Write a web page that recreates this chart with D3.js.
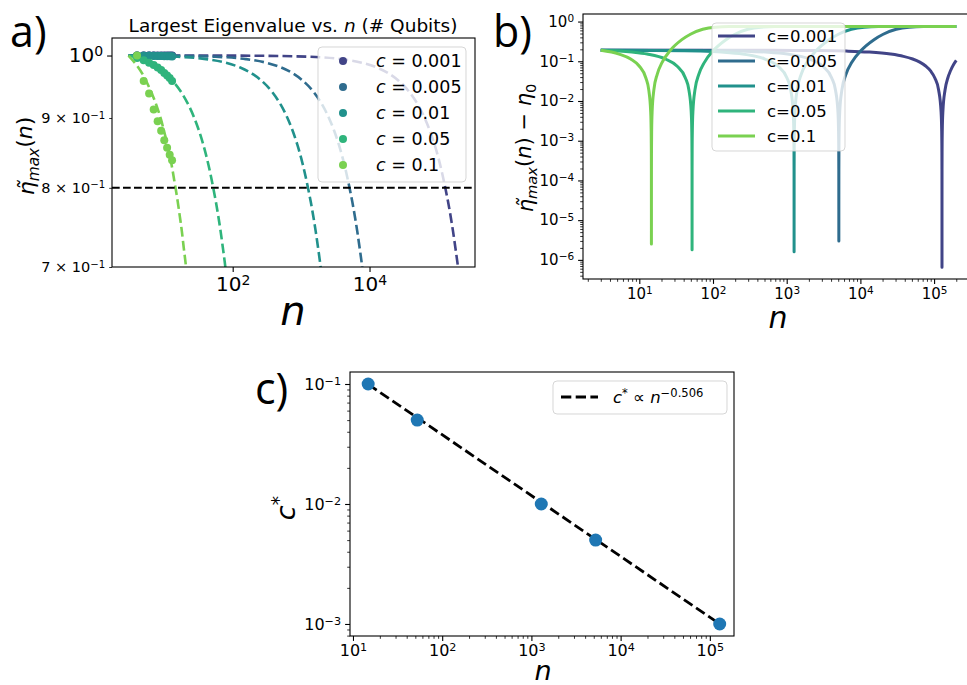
<!DOCTYPE html>
<html>
<head>
<meta charset="utf-8">
<script src="https://cdn.jsdelivr.net/npm/d3@7/dist/d3.min.js"></script>
<style>
html,body{margin:0;padding:0;background:#fff;}
svg{display:block;}
</style>
</head>
<body>
<svg id="fig" width="967" height="685" xmlns="http://www.w3.org/2000/svg"></svg>
<script>
// ---------------- DATA ----------------
const cValues = [0.001, 0.005, 0.01, 0.05, 0.1];
const cLabels = ["0.001", "0.005", "0.01", "0.05", "0.1"];

// Panel a: dashed curves  (n, eta_max)
const aLineN = [
  [3, 131, 1283, 3843, 7683, 12803, 19203, 25602, 38402, 51202, 64001, 76801, 89601, 102401, 115200, 128000, 140800, 153600, 166400, 179200, 192000, 200000],
  [3, 15, 54, 156, 309, 513, 768, 1022, 1532, 2042, 2552, 3061, 3571, 4081, 4590, 5100, 5610, 6119, 6629, 7139, 7649, 8158],
  [3, 15.6, 40.7, 78.4, 128.7, 191.6, 254, 380, 506, 632, 757, 883, 1009, 1134, 1260, 1386, 1511, 1637, 1763, 1889, 2014],
  [3, 3.98, 5.45, 7.9, 12.8, 17.7, 22.6, 27.5, 32.4, 37.3, 42.2, 47.1, 52, 56.9, 61.8, 66.7, 71.6, 76.5, 81.4],
  [3, 4, 5, 6, 7, 8, 9, 10, 11, 12, 13, 14, 14.6, 15.76, 16.9, 18.1, 19.2, 20.4, 21.6]
];
const aLineEta = [
  [1.0, 0.9998, 0.998, 0.994, 0.988, 0.98, 0.97, 0.96, 0.94, 0.92, 0.90, 0.88, 0.86, 0.84, 0.82, 0.80, 0.781, 0.762, 0.743, 0.724, 0.706, 0.695],
  [1.0, 0.9995, 0.998, 0.994, 0.988, 0.98, 0.97, 0.96, 0.94, 0.92, 0.90, 0.88, 0.86, 0.84, 0.82, 0.80, 0.781, 0.762, 0.743, 0.724, 0.706, 0.687],
  [1.0, 0.998, 0.994, 0.988, 0.98, 0.97, 0.96, 0.94, 0.92, 0.90, 0.88, 0.86, 0.84, 0.82, 0.80, 0.781, 0.762, 0.743, 0.724, 0.706, 0.687],
  [1.0, 0.996, 0.99, 0.98, 0.96, 0.94, 0.92, 0.90, 0.88, 0.86, 0.84, 0.82, 0.80, 0.781, 0.762, 0.743, 0.724, 0.706, 0.687],
  [1.0, 0.983, 0.966, 0.948, 0.931, 0.914, 0.897, 0.879, 0.862, 0.845, 0.828, 0.810, 0.80, 0.781, 0.762, 0.743, 0.724, 0.706, 0.687]
];
// Panel a: computed points
const dotN = [4, 5, 6, 7, 8, 9, 10, 11, 12, 13];
const dotEta = [
  [1, 1, 1, 1, 1, 1, 1, 1, 1, 1],
  [1.0, 1.0, 1.0, 1.0, 0.9998, 0.9998, 0.9997, 0.9997, 0.9996, 0.9996],
  [0.9998, 0.9997, 0.9995, 0.9994, 0.9992, 0.999, 0.9989, 0.9987, 0.9986, 0.9984],
  [0.996, 0.992, 0.988, 0.984, 0.980, 0.976, 0.971, 0.967, 0.963, 0.958],
  [1.0, 0.958, 0.938, 0.913, 0.895, 0.881, 0.867, 0.856, 0.846, 0.838]
];
const eta0 = 0.8;

// Panel b: |eta_max(n) - eta0|
const bN = [
  [3, 67, 259, 643, 1283, 2563, 6403, 12803, 25602, 38402, 51202, 64001, 76801, 89601, 102401, 115200, 124160, 126720, 127616, 127872, 127987, 128000, 128013, 128128, 128384, 129280, 131840, 140800, 153600, 166400, 185600, 200000],
  [3, 105, 258, 513, 1022, 2042, 3061, 4081, 4590, 4947, 5049, 5085, 5095, 5099.5, 5100, 5100.5, 5105, 5115, 5151, 5253, 5610, 6374, 7649, 10197, 15294, 20391, 30585, 45876, 71361, 152913, 200000],
  [3, 15.6, 40.7, 65.9, 128.7, 254, 506, 757, 1009, 1134, 1222, 1247.4, 1256.2, 1258.7, 1259.87, 1260, 1260.13, 1261.3, 1263.8, 1272.6, 1297.7, 1385.7, 1574, 1888, 2517, 3774, 5031, 7545, 11316, 17601, 37713, 200000],
  [3, 7.9, 12.8, 22.6, 32.4, 42.2, 47.1, 50.53, 51.51, 51.853, 51.951, 51.995, 52, 52.005, 52.049, 52.147, 52.49, 53.47, 56.9, 64.25, 76.5, 101, 150, 199, 297, 444, 689, 1473, 200000],
  [3, 5.32, 7.64, 9.96, 12.28, 13.44, 14.25, 14.48, 14.565, 14.588, 14.5988, 14.6, 14.6012, 14.612, 14.635, 14.716, 14.95, 15.76, 17.5, 20.4, 26.2, 37.8, 49.4, 72.6, 107.4, 165, 351, 200000]
];
const bDiff = [
  [0.19, 0.1899, 0.1896, 0.189, 0.1881, 0.1862, 0.1805, 0.171, 0.152, 0.133, 0.114, 0.095, 0.076, 0.057, 0.038, 0.019, 0.0057, 0.0019, 0.00057, 0.00019, 0.000019, 6.5e-7, 0.000019, 0.00019, 0.00057, 0.0019, 0.0057, 0.019, 0.038, 0.0568, 0.0852, 0.1055],
  [0.19, 0.1862, 0.1805, 0.171, 0.152, 0.114, 0.076, 0.038, 0.019, 0.0057, 0.0019, 0.00057, 0.00019, 0.000019, 3e-6, 0.000019, 0.00019, 0.00057, 0.0019, 0.0057, 0.019, 0.047, 0.094, 0.186, 0.350, 0.480, 0.639, 0.724, 0.748, 0.75, 0.75],
  [0.19, 0.1881, 0.1843, 0.1805, 0.171, 0.152, 0.114, 0.076, 0.038, 0.019, 0.0057, 0.0019, 0.00057, 0.00019, 0.000019, 1.6e-6, 0.000019, 0.00019, 0.00057, 0.0019, 0.0057, 0.019, 0.047, 0.094, 0.186, 0.350, 0.480, 0.639, 0.724, 0.748, 0.75, 0.75],
  [0.19, 0.171, 0.152, 0.114, 0.076, 0.038, 0.019, 0.0057, 0.0019, 0.00057, 0.00019, 0.000019, 1.8e-6, 0.000019, 0.00019, 0.00057, 0.0019, 0.0057, 0.019, 0.047, 0.094, 0.186, 0.350, 0.480, 0.639, 0.724, 0.748, 0.75, 0.75],
  [0.19, 0.152, 0.114, 0.076, 0.038, 0.019, 0.0057, 0.0019, 0.00057, 0.00019, 0.000019, 2.5e-6, 0.000019, 0.00019, 0.00057, 0.0019, 0.0057, 0.019, 0.047, 0.094, 0.186, 0.350, 0.480, 0.639, 0.724, 0.748, 0.75, 0.75]
];

// Panel c: critical c* vs n
const critN = [14.8, 52.5, 1290, 5250, 129000];
const critC = [0.1, 0.05, 0.01, 0.005, 0.001];
const fitN = [14.8, 129000];
const fitC = [0.0995, 0.00100];
const fitExponentLabel = "\u22120.506";

// tick values
const aXMajor = [1e2, 1e4];
const aYMajor = [1.0];
const aYMinor = [0.7, 0.8, 0.9];
const bXMajor = [1e1, 1e2, 1e3, 1e4, 1e5];
const bYMajor = [1e-6, 1e-5, 1e-4, 1e-3, 1e-2, 1e-1, 1e0];
const cXMajor = [1e1, 1e2, 1e3, 1e4, 1e5];
const cYMajor = [1e-3, 1e-2, 1e-1];

// ---------------- DRAWING ----------------
const FONT = '"DejaVu Sans", sans-serif';
const svg = d3.select('#fig');
const colors = [0.2, 0.35, 0.5, 0.65, 0.8].map(t => d3.interpolateViridis(t));

function minorTicks(scale) {
  const [a, b] = scale.domain();
  const lo = Math.floor(Math.log10(a)), hi = Math.ceil(Math.log10(b));
  const out = [];
  for (let e = lo; e <= hi; e++) for (let m = 2; m <= 9; m++) {
    const v = m * Math.pow(10, e);
    if (v >= a && v <= b) out.push(v);
  }
  return out;
}
function supText(t, base, exp) {
  t.text(null);
  t.append('tspan').text(base);
  t.append('tspan').attr('dy', '-0.45em').attr('font-size', '0.7em').text(exp);
}
function powLabel(sel) {
  sel.each(function (d) {
    const e = Math.round(Math.log10(d));
    supText(d3.select(this), '10', e < 0 ? '\u2212' + (-e) : String(e));
  });
}
function mantLabel(sel) {
  sel.each(function (d) {
    const m = Math.round(d * 10);
    supText(d3.select(this), m + ' \u00d7 10', '\u22121');
  });
}
function axis(orient, scale, pos, values, size, fontSize, pad, labeler) {
  const gen = (orient === 'bottom' ? d3.axisBottom(scale) : d3.axisLeft(scale))
    .tickValues(values).tickSize(size).tickSizeOuter(0).tickPadding(pad);
  if (!labeler) gen.tickFormat('');
  const g = svg.append('g')
    .attr('transform', orient === 'bottom' ? `translate(0,${pos})` : `translate(${pos},0)`)
    .call(gen)
    .attr('font-size', fontSize).attr('font-family', FONT);
  g.select('.domain').remove();
  g.selectAll('.tick line').attr('stroke', '#000').attr('stroke-width', size > 4 ? 1.1 : 0.8);
  if (labeler) g.selectAll('.tick text').attr('fill', '#000').call(labeler);
  return g;
}
function frame(x0, y0, w, h) {
  svg.append('rect').attr('x', x0).attr('y', y0).attr('width', w).attr('height', h)
    .attr('fill', 'none').attr('stroke', '#000').attr('stroke-width', 1.1);
}
function clip(id, x0, y0, w, h) {
  svg.append('clipPath').attr('id', id).append('rect')
    .attr('x', x0).attr('y', y0).attr('width', w).attr('height', h);
}
function ylabel(x, y, size, build) {
  const t = svg.append('text').attr('transform', `translate(${x},${y}) rotate(-90)`)
    .attr('text-anchor', 'middle').attr('font-family', FONT).attr('font-size', size);
  build(t);
  return t;
}
function etaTilde(t) {
  t.append('tspan').attr('font-style', 'italic').text('\u03b7\u0303');
  t.append('tspan').attr('font-style', 'italic').attr('font-size', '0.7em').attr('dy', '0.3em').text('max');
  t.append('tspan').attr('dy', '-0.3em').text('(');
  t.append('tspan').attr('font-style', 'italic').text('n');
  t.append('tspan').text(')');
}

// ===== Panel a =====
const AX0 = 112, AX1 = 475, AY0 = 38, AY1 = 267;
const ax = d3.scaleLog().domain([1.722, 348000]).range([AX0, AX1]);
const ay = d3.scaleLog().domain([0.7, 1.03]).range([AY1, AY0]);
clip('clipA', AX0, AY0, AX1 - AX0, AY1 - AY0);
const gA = svg.append('g').attr('clip-path', 'url(#clipA)');
const lineA = d3.line().x(d => ax(d[0])).y(d => ay(d[1])).curve(d3.curveMonotoneX);
cValues.forEach((c, i) => {
  const pts = aLineN[i].map((n, k) => [n, aLineEta[i][k]]);
  gA.append('path').attr('d', lineA(pts)).attr('fill', 'none')
    .attr('stroke', colors[i]).attr('stroke-width', 2.6).attr('stroke-dasharray', '9.8,4.2');
  gA.selectAll(null).data(dotN.map((n, k) => [n, dotEta[i][k]])).enter().append('circle')
    .attr('cx', d => ax(d[0])).attr('cy', d => ay(d[1])).attr('r', 4).attr('fill', colors[i]);
});
gA.append('line').attr('x1', AX0).attr('x2', AX1).attr('y1', ay(eta0)).attr('y2', ay(eta0))
  .attr('stroke', '#000').attr('stroke-width', 2).attr('stroke-dasharray', '7.7,3.3');
axis('bottom', ax, AY1, aXMajor, 4.9, 20, 5, powLabel);
axis('left', ay, AX0, aYMajor, 4.9, 20, 4, powLabel);
axis('left', ay, AX0, aYMinor, 2.8, 14.5, 4, mantLabel);
frame(AX0, AY0, AX1 - AX0, AY1 - AY0);
// legend a
const legA = svg.append('g');
legA.append('rect').attr('x', 318).attr('y', 47).attr('width', 148).attr('height', 135).attr('rx', 4)
  .attr('fill', '#fff').attr('fill-opacity', 0.8).attr('stroke', '#cccccc').attr('stroke-opacity', 0.8);
cValues.forEach((c, i) => {
  const yy = 61 + i * 26;
  legA.append('circle').attr('cx', 343).attr('cy', yy).attr('r', 4).attr('fill', colors[i]);
  const t = legA.append('text').attr('x', 376).attr('y', yy + 6.3).attr('font-family', FONT).attr('font-size', 17.5);
  t.append('tspan').attr('font-style', 'italic').text('c');
  t.append('tspan').text(' = ' + cLabels[i]);
});
// title and labels a
const ttl = svg.append('text').attr('x', 293).attr('y', 31.5).attr('text-anchor', 'middle')
  .attr('font-family', FONT).attr('font-size', 18.5);
ttl.append('tspan').text('Largest Eigenvalue vs. ');
ttl.append('tspan').attr('font-style', 'italic').text('n');
ttl.append('tspan').text(' (# Qubits)');
svg.append('text').attr('x', 293).attr('y', 325).attr('text-anchor', 'middle').attr('font-family', FONT)
  .attr('font-size', 40).attr('font-style', 'italic').text('n');
ylabel(34, 156, 22, t => etaTilde(t));

// ===== Panel b =====
const BX0 = 583, BX1 = 974, BY0 = 14, BY1 = 279;
const bx = d3.scaleLog().domain([1.722, 348000]).range([BX0, BX1]);
const by = d3.scaleLog().domain([3.3e-7, 1.55]).range([BY1, BY0]);
clip('clipB', BX0, BY0, BX1 - BX0, BY1 - BY0);
const gB = svg.append('g').attr('clip-path', 'url(#clipB)');
const lineB = d3.line().x(d => bx(d[0])).y(d => by(d[1])).curve(d3.curveMonotoneX);
cValues.forEach((c, i) => {
  const pts = bN[i].map((n, k) => [n, bDiff[i][k]]);
  gB.append('path').attr('d', lineB(pts)).attr('fill', 'none').attr('stroke', colors[i])
    .attr('stroke-width', 3).attr('stroke-linejoin', 'round');
});
axis('bottom', bx, BY1, bXMajor, 4.9, 15, 4, powLabel);
axis('bottom', bx, BY1, minorTicks(bx), 2.8, 15, 4, null);
axis('left', by, BX0, bYMajor, 4.9, 15, 4, powLabel);
axis('left', by, BX0, minorTicks(by), 2.8, 15, 4, null);
frame(BX0, BY0, BX1 - BX0, BY1 - BY0);
const legB = svg.append('g');
legB.append('rect').attr('x', 712).attr('y', 23).attr('width', 133).attr('height', 128).attr('rx', 4)
  .attr('fill', '#fff').attr('fill-opacity', 0.8).attr('stroke', '#cccccc').attr('stroke-opacity', 0.8);
cValues.forEach((c, i) => {
  const yy = 36 + i * 25;
  legB.append('line').attr('x1', 718).attr('x2', 755).attr('y1', yy).attr('y2', yy)
    .attr('stroke', colors[i]).attr('stroke-width', 3);
  legB.append('text').attr('x', 767).attr('y', yy + 6).attr('font-family', FONT).attr('font-size', 16.5)
    .text('c=' + cLabels[i]);
});
svg.append('text').attr('x', 778).attr('y', 328).attr('text-anchor', 'middle').attr('font-family', FONT)
  .attr('font-size', 30).attr('font-style', 'italic').text('n');
ylabel(533, 148, 21, t => {
  etaTilde(t);
  t.append('tspan').text(' \u2212 ');
  t.append('tspan').attr('font-style', 'italic').text('\u03b7');
  t.append('tspan').attr('font-size', '0.7em').attr('dy', '0.3em').text('0');
});

// ===== Panel c =====
const CX0 = 350, CX1 = 734, CY0 = 372, CY1 = 636;
const cx = d3.scaleLog().domain([9.26, 186600]).range([CX0, CX1]);
const cy = d3.scaleLog().domain([7.94e-4, 0.1259]).range([CY1, CY0]);
const gC = svg.append('g');
gC.append('path').attr('d', d3.line().x(d => cx(d[0])).y(d => cy(d[1]))(fitN.map((n, k) => [n, fitC[k]])))
  .attr('fill', 'none').attr('stroke', '#000').attr('stroke-width', 2.8).attr('stroke-dasharray', '10.3,4.4');
gC.selectAll(null).data(critN.map((n, k) => [n, critC[k]])).enter().append('circle')
  .attr('cx', d => cx(d[0])).attr('cy', d => cy(d[1])).attr('r', 6.5).attr('fill', '#1f77b4');
axis('bottom', cx, CY1, cXMajor, 4.9, 16, 4, powLabel);
axis('bottom', cx, CY1, minorTicks(cx), 2.8, 16, 4, null);
axis('left', cy, CX0, cYMajor, 4.9, 16, 4, powLabel);
axis('left', cy, CX0, minorTicks(cy), 2.8, 16, 4, null);
frame(CX0, CY0, CX1 - CX0, CY1 - CY0);
const legC = svg.append('g');
legC.append('rect').attr('x', 553).attr('y', 381).attr('width', 174).attr('height', 33).attr('rx', 4)
  .attr('fill', '#fff').attr('fill-opacity', 0.8).attr('stroke', '#cccccc').attr('stroke-opacity', 0.8);
legC.append('line').attr('x1', 561).attr('x2', 598).attr('y1', 397).attr('y2', 397)
  .attr('stroke', '#000').attr('stroke-width', 2.8).attr('stroke-dasharray', '10.3,4.4');
const tc = legC.append('text').attr('x', 613).attr('y', 403).attr('font-family', FONT).attr('font-size', 16.5);
tc.append('tspan').attr('font-style', 'italic').text('c');
tc.append('tspan').attr('font-size', '0.7em').attr('dy', '-0.55em').text('*');
tc.append('tspan').attr('dy', '0.385em').text(' \u221d ');
tc.append('tspan').attr('font-style', 'italic').text('n');
tc.append('tspan').attr('font-size', '0.7em').attr('dy', '-0.55em').text(fitExponentLabel);
svg.append('text').attr('x', 543).attr('y', 680).attr('text-anchor', 'middle').attr('font-family', FONT)
  .attr('font-size', 27).attr('font-style', 'italic').text('n');
ylabel(295, 508, 27, t => {
  t.append('tspan').attr('font-style', 'italic').text('c');
  t.append('tspan').attr('font-size', '0.7em').attr('dy', '-0.55em').text('*');
});

// panel letters
[['a)', 10, 47], ['b)', 493, 47], ['c)', 255, 404]].forEach(([s, x, y]) => {
  svg.append('text').attr('x', x).attr('y', y).attr('font-family', '"Open Sans", "DejaVu Sans", sans-serif')
    .attr('font-size', 43).text(s);
});
</script>
</body>
</html>
